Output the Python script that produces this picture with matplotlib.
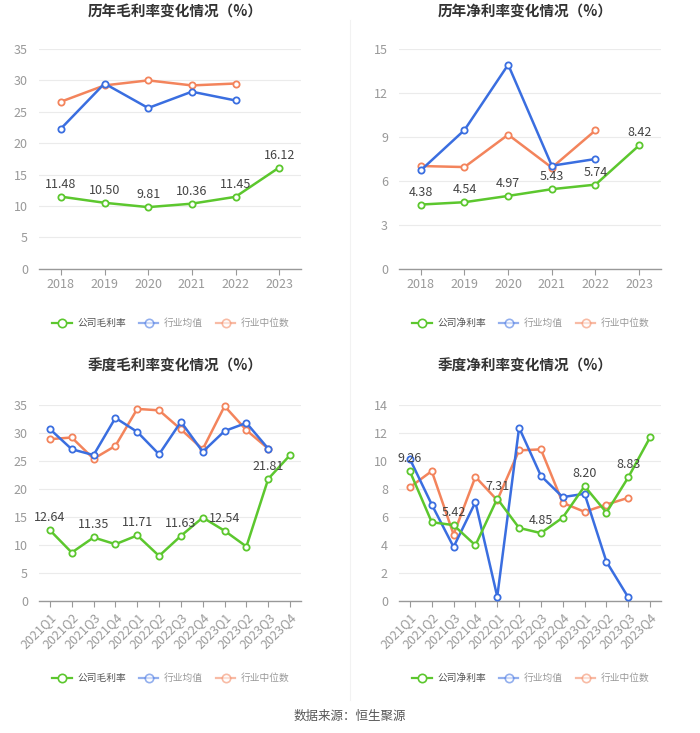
import matplotlib
matplotlib.use("Agg")
import matplotlib.pyplot as plt
from matplotlib.lines import Line2D

plt.rcParams['font.family'] = ['Noto Sans CJK SC', 'DejaVu Sans']

years = ['2018', '2019', '2020', '2021', '2022', '2023']
quarters = ['2021Q1', '2021Q2', '2021Q3', '2021Q4', '2022Q1', '2022Q2',
            '2022Q3', '2022Q4', '2023Q1', '2023Q2', '2023Q3', '2023Q4']

# annual gross margin
ag_company = [11.48, 10.50, 9.81, 10.36, 11.45, 16.12]
ag_mean = [22.3, 29.5, 25.6, 28.2, 26.8]
ag_median = [26.6, 29.2, 30.0, 29.2, 29.5]

# annual net margin
an_company = [4.38, 4.54, 4.97, 5.43, 5.74, 8.42]
an_mean = [6.72, 9.47, 13.93, 7.03, 7.49]
an_median = [7.01, 6.94, 9.15, 6.90, 9.45]

# quarterly gross margin
qg_company = [12.64, 8.65, 11.35, 10.14, 11.71, 8.05, 11.63, 14.9, 12.54, 9.72, 21.81, 26.06]
qg_mean = [30.7, 27.1, 26.06, 32.7, 30.2, 26.2, 32.0, 26.65, 30.35, 31.8, 27.2]
qg_median = [28.9, 29.2, 25.4, 27.7, 34.3, 34.05, 30.65, 27.1, 34.8, 30.5, 27.2]

# quarterly net margin
qn_company = [9.26, 5.63, 5.42, 3.98, 7.31, 5.22, 4.85, 5.96, 8.20, 6.32, 8.83, 11.69]
qn_mean = [10.14, 6.89, 3.86, 7.06, 0.31, 12.38, 8.94, 7.42, 7.66, 2.81, 0.26]
qn_median = [8.13, 9.28, 4.75, 8.87, 7.2, 10.76, 10.83, 7.01, 6.37, 6.89, 7.37]

titles = ['历年毛利率变化情况（%）', '历年净利率变化情况（%）',
          '季度毛利率变化情况（%）', '季度净利率变化情况（%）']
legend_gross = ['公司毛利率', '行业均值', '行业中位数']
legend_net = ['公司净利率', '行业均值', '行业中位数']
source = '数据来源：恒生聚源'

GREEN = '#5cc72e'
BLUE = '#3a6ee0'
ORANGE = '#f3845c'

W, H = 700, 733
fig = plt.figure(figsize=(W / 100, H / 100), dpi=100)


def box(x0, y0, x1, y1):
    return [x0 / W, 1 - y1 / H, (x1 - x0) / W, (y1 - y0) / H]


def draw(ax, cats, comp, mean, med, ymax, ystep, label_idx, rotate):
    n = len(cats)
    xs = list(range(n))
    for vals, c, z in [(med, ORANGE, 2), (mean, BLUE, 3), (comp, GREEN, 4)]:
        ax.plot(xs[:len(vals)], vals, color=c, lw=1.8, marker='o', ms=4.5,
                mfc='white', mec=c, mew=1.3, zorder=z, clip_on=False)
    for i in label_idx:
        ax.annotate(f'{comp[i]:.2f}', (i, comp[i]), xytext=(0, 9),
                    textcoords='offset points', ha='center', va='center',
                    fontsize=9, color='#444444', zorder=6)
    ax.set_xlim(-0.5, n - 0.5)
    ax.set_ylim(0, ymax)
    ticks = [ystep * k for k in range(int(round(ymax / ystep)) + 1)]
    ax.set_yticks(ticks)
    ax.set_yticklabels([f'{t:g}' for t in ticks])
    ax.set_xticks(xs)
    if rotate:
        ax.set_xticklabels(cats, rotation=45, ha='right', rotation_mode='anchor')
    else:
        ax.set_xticklabels(cats)
    ax.grid(axis='y', color='#ebebeb', lw=0.8)
    ax.set_axisbelow(True)
    for s in ['top', 'right', 'left']:
        ax.spines[s].set_visible(False)
    ax.spines['bottom'].set_color('#999999')
    ax.spines['bottom'].set_linewidth(1.0)
    ax.tick_params(axis='y', length=0, labelsize=9, labelcolor='#999999', pad=8)
    ax.tick_params(axis='x', length=4, color='#999999', labelsize=9,
                   labelcolor='#999999', pad=3)


ax1 = fig.add_axes(box(39, 49, 301, 268.7))
draw(ax1, years, ag_company, ag_mean, ag_median, 35, 5, range(6), False)
ax2 = fig.add_axes(box(399, 49, 661, 268.7))
draw(ax2, years, an_company, an_mean, an_median, 15, 3, range(6), False)
ax3 = fig.add_axes(box(39, 405, 301, 601))
draw(ax3, quarters, qg_company, qg_mean, qg_median, 35, 5, range(0, 12, 2), True)
ax4 = fig.add_axes(box(399, 405, 661, 601))
draw(ax4, quarters, qn_company, qn_mean, qn_median, 14, 2, range(0, 12, 2), True)

# titles
for (cx, cy), t in zip([(175, 12), (525, 12), (175, 366), (525, 366)], titles):
    fig.text(cx / W, 1 - cy / H, t, ha='center', va='center', fontsize=10.5,
             fontweight='bold', color='#333333')

# legends
for (cx, cy), labels in zip([(171, 323), (531, 323), (171, 678), (531, 678)],
                            [legend_gross, legend_net, legend_gross, legend_net]):
    handles = [Line2D([], [], color=c, lw=1.6, marker='o', ms=6, mfc='white',
                      mec=c, mew=1.2, alpha=a)
               for c, a in ((GREEN, 1.0), (BLUE, 0.55), (ORANGE, 0.55))]
    leg = fig.legend(handles, labels, loc='center', bbox_to_anchor=(cx / W, 1 - cy / H),
                     ncol=3, frameon=False, fontsize=7, handlelength=2.0,
                     handletextpad=0.6, columnspacing=1.3, borderpad=0)
    for k, txt in enumerate(leg.get_texts()):
        txt.set_color('#555555' if k == 0 else '#999999')

# divider
fig.add_artist(Line2D([350 / W, 350 / W], [1 - 20 / H, 1 - 700 / H],
                      color='#f2f2f2', lw=0.8))

fig.text(350 / W, 1 - 716 / H, source, ha='center', va='center', fontsize=9,
         color='#555555')

fig.savefig('out.png', dpi=100, facecolor='white')
